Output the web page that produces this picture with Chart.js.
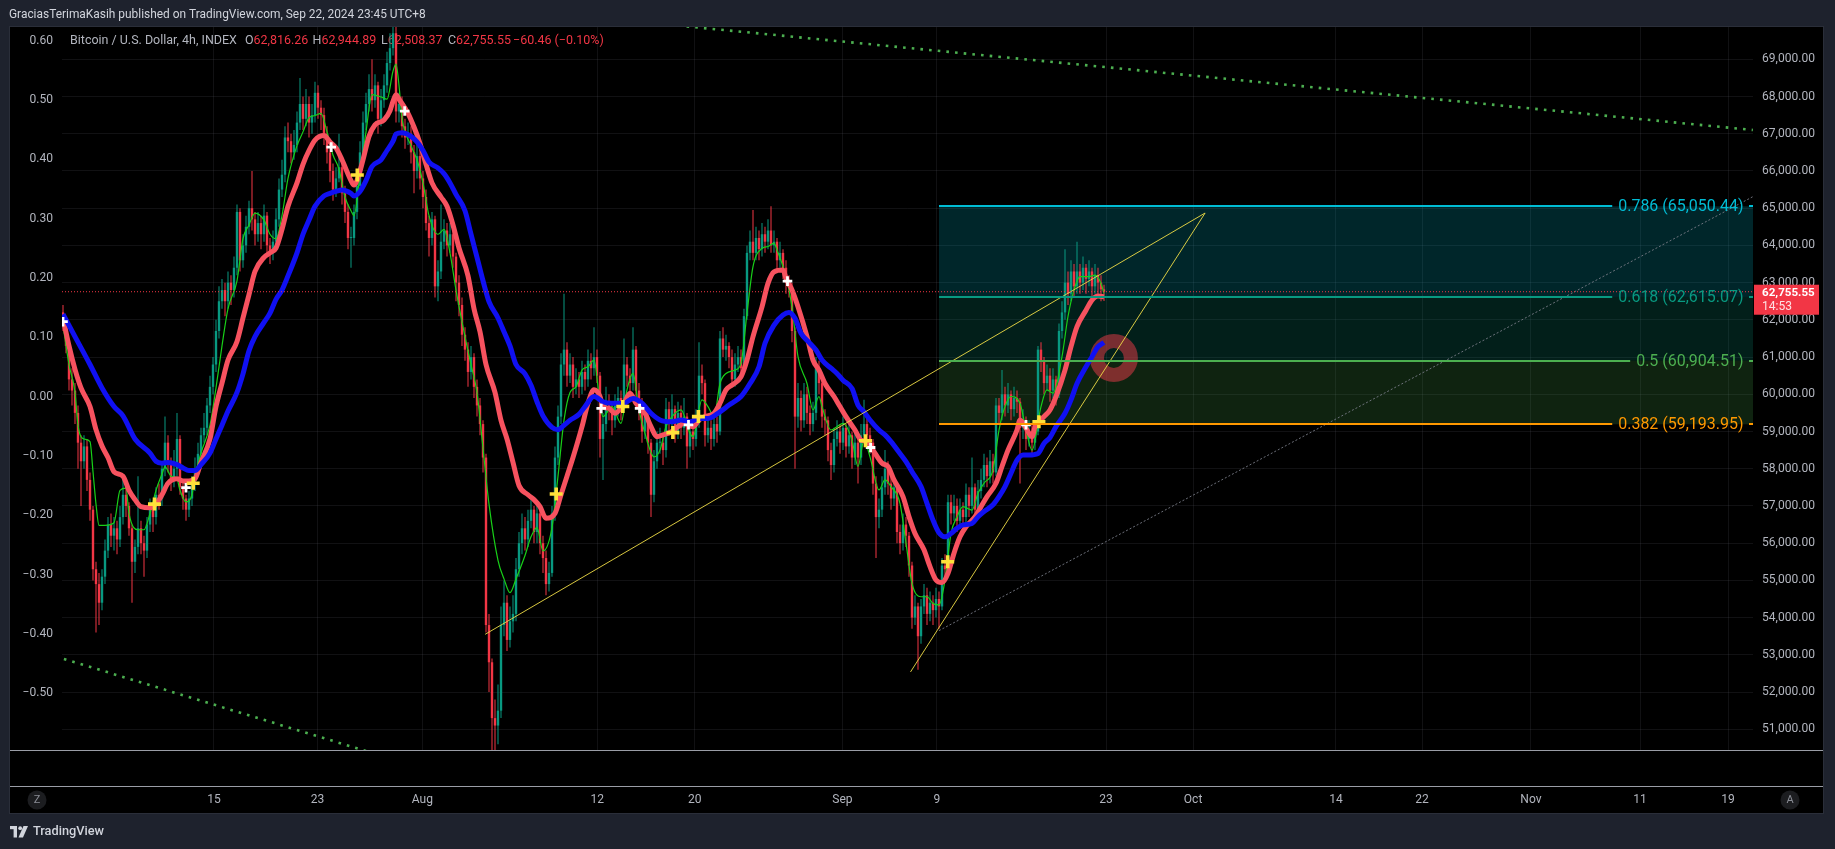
<!DOCTYPE html>
<html lang="en">
<head>
<meta charset="utf-8" />
<title>BTCUSD 4h</title>
<script src="https://cdn.jsdelivr.net/npm/chart.js@4.4.1/dist/chart.umd.min.js"></script>
<style>
  html, body { margin: 0; padding: 0; background: #1e222d; overflow: hidden; }
  canvas { display: block; }
</style>
</head>
<body>
<canvas id="btc" width="1835" height="849"></canvas>
<script>
// ---- data (4h candles, bar index 0 = first visible bar) ----
const firstOpen = 62200;
const closes = [
  61900,61300,60400,60100,59500,58700,58200,58600,57700,56900,
  55300,54900,54400,55100,55800,56500,56200,56400,56100,56700,
  57300,57000,56400,55500,55900,56400,56000,55800,56500,56900,
  56700,57300,57200,58000,58700,58100,57700,58000,58800,57500,
  57200,56900,57200,57600,58000,58400,58900,59100,59700,60200,
  60800,61700,62500,62800,62500,63000,62800,63400,64900,63600,
  64000,64500,65000,64700,64300,64600,64300,64800,64000,63800,
  64100,64700,65500,65900,66900,66800,66500,66700,67300,67800,
  67400,67800,67300,67500,68100,67700,67500,67000,66500,66000,
  65500,65800,66100,65400,64900,64200,64200,64900,65600,66500,
  67300,67800,68200,67900,68300,67400,67900,68300,68900,69300,
  69700,67600,67800,67200,66900,67000,66500,66000,66400,65800,
  65300,64600,64200,64700,62900,63300,64100,64400,64000,64300,
  63700,63000,62400,61600,61200,60600,61000,60200,59700,59200,
  58300,53800,52800,51300,51100,51500,53800,54400,53400,53900,
  54100,55300,56000,56400,56100,56600,56900,56300,56800,56000,
  55600,54900,55200,56800,58300,59400,60800,61200,60500,60800,
  60200,60400,60200,60600,60400,60900,60700,61000,60500,58800,
  59200,59800,59600,59300,59700,59900,59600,60800,60500,60300,
  61200,60100,59700,59000,59400,58700,57300,58200,58700,58700,
  58500,59600,59200,59600,59000,59500,59100,59400,58600,59000,
  58800,59300,60500,60300,58900,59100,58800,59200,59000,61500,
  61200,61300,61000,60400,60800,61000,60700,62100,63800,64100,
  63800,64200,63900,64300,64100,64400,64000,64100,63600,63800,
  63400,63000,62900,61700,59400,59900,59300,60000,59500,59200,
  59500,60700,60300,59400,59300,58500,58100,58800,59000,58700,
  59100,58600,58900,58300,58700,58300,58900,59200,58900,58700,
  57600,56700,56900,57500,58000,57600,57200,57500,56300,56000,
  56500,56200,55400,54000,54300,53500,54300,54600,54100,54400,
  54200,54500,54300,55400,55300,57100,56800,57000,56600,56900,
  56700,57300,57000,57500,56900,57400,57700,58100,57800,58200,
  57900,59700,59500,60000,59700,60000,59600,59900,59800,59100,
  59300,58800,59000,58700,59000,61200,60900,60300,60500,60100,
  60400,60000,61700,62200,63000,62700,63300,62900,63300,63000,
  63400,63100,63300,62900,63200,63000,62820,62756
];
const highs = [
  62400,62000,61400,60700,60300,59700,58900,58900,58800,57900,
  57000,55500,55200,55300,56100,56700,56800,56700,56600,57000,
  57700,57500,57100,56500,56100,57800,56600,56200,56700,57200,
  57100,57500,57600,58200,59400,58900,58300,58500,59500,58900,
  57700,57300,57400,57800,58300,58700,59100,59500,59900,60500,
  61000,62000,62900,63100,63000,63300,63200,63700,65100,65000,
  64300,64800,65200,66000,64900,64900,64800,65100,64900,64200,
  64400,65000,65800,66300,67200,67300,67000,67100,67600,68500,
  68000,68200,68000,67800,68400,68300,67900,67700,67200,66800,
  66200,66100,67000,66300,65600,65100,64500,65100,65900,66800,
  67600,68100,68600,69000,68600,68400,68200,68600,69200,69700,
  70100,69900,68100,68000,67400,67300,67200,66700,66700,66600,
  66000,65500,64800,64900,64800,63600,65100,64700,64600,64600,
  64400,63800,63200,62600,61800,61400,61300,61100,60400,59900,
  59300,58400,54100,52900,51800,52200,54300,55000,54600,54300,
  54600,55600,56300,56800,56700,56900,57200,57000,57000,56900,
  56200,55800,55500,57000,58600,59700,61100,62700,61400,61100,
  61000,60700,60600,60900,60800,61200,61100,61800,61200,60600,
  59500,60200,60000,59800,60000,60200,60100,61500,61000,60700,
  61800,61300,60300,59900,59700,59500,58800,58500,59000,59100,
  58900,59900,59800,60000,59700,59800,59700,59900,59500,59300,
  59200,59600,61400,60800,60400,59400,59300,59500,59400,61700,
  61800,61600,61400,61200,61100,61300,61200,62300,64000,64400,
  64950,64500,64400,64600,64500,64700,65050,64400,64200,64100,
  63900,63600,63200,63000,61800,60300,60100,60300,60200,59700,
  59800,61000,60900,60400,59600,59400,58700,59100,59300,59200,
  59400,59200,59200,59000,59000,58800,59200,59850,59400,59100,
  58800,57800,57200,57800,58500,58200,57800,57800,57600,56500,
  56800,56700,56300,55500,54600,54400,54500,54900,54800,54700,
  54600,54800,54700,55600,55700,57300,57300,57300,57200,57200,
  57100,57600,57500,58300,57600,57700,58000,58400,58300,58500,
  58400,59900,59900,60650,60200,60300,60100,60200,60100,59900,
  59600,59400,59300,59200,59300,61300,61400,61000,60800,60700,
  60700,60500,61900,62500,63900,63300,63600,63500,64100,63500,
  63700,63500,63600,63400,63500,63400,63200,62945
];
const lows = [
  61700,61100,60100,59700,59200,58000,57000,58000,57400,56600,
  55000,53600,53800,54200,54900,55600,55900,55800,55700,55900,
  56500,56700,56200,54400,55200,55700,55700,55100,55600,56300,
  56300,56500,56900,57000,57800,57900,57400,57500,57800,57300,
  56900,56600,56700,57000,57400,57800,58200,58700,58900,59500,
  60000,60600,61500,62300,62100,62300,62400,62600,63200,63300,
  63400,63800,64300,64400,64000,64100,63900,64100,63700,63500,
  63600,63900,64500,65300,65700,66500,66200,66300,66500,67100,
  67100,67200,66900,67000,67300,67400,67100,66700,66200,65700,
  65200,65300,65700,65100,64600,63900,63400,64000,64700,65400,
  66300,67100,67600,67600,67700,67000,67200,67700,68100,68700,
  69100,67300,67300,66900,66600,66700,66200,65400,65800,65500,
  65000,64400,63700,64000,62600,62500,63100,63900,63700,63800,
  63400,62500,62100,61300,60900,60200,60400,59900,59400,58900,
  57900,53600,52000,49100,49800,50600,51300,53500,53100,53200,
  53600,53900,55100,55700,55800,55900,56400,56000,56000,55700,
  55200,54600,54700,55100,56600,58100,59200,60500,60200,60300,
  59900,60000,59900,60000,60100,60200,60400,60500,60300,58300,
  57700,59000,59300,58900,59100,59400,59300,59500,60200,60000,
  60100,59900,59300,58700,58800,58400,56700,57100,58000,58400,
  58100,58300,58900,59000,58700,58800,58800,58900,58000,58300,
  58500,58600,59100,60000,58600,58700,58500,58600,58700,58900,
  61000,60900,60700,60200,60200,60600,60500,60600,62000,63600,
  63600,63600,63600,63700,63800,63900,63800,63800,63300,63400,
  63100,62700,62600,61400,58000,59100,59000,59100,59200,58900,
  59000,59300,60000,59100,58900,58200,57700,57900,58600,58400,
  58500,58300,58400,58000,58100,57600,58100,58700,58600,58400,
  57300,55600,56400,56700,57300,57300,56900,57000,56000,55700,
  55800,55900,55100,53700,53800,52600,53300,54100,53800,53900,
  53800,54000,53700,54200,55000,55200,56500,56600,56300,56400,
  56400,56500,56700,56800,56600,56700,57200,57500,57500,57600,
  57600,57800,59200,59300,59400,59500,59300,59400,59500,57600,
  58800,58500,58600,58400,58500,58900,60600,60000,60100,59800,
  59900,59700,59900,61500,62000,62400,62500,62600,62700,62700,
  62800,62700,62900,62500,62700,62600,62500,62508
];

// moving averages as [bar index, price]
const fastLine = [[0,61860],[2,60800],[4,60050],[5,59170],[7,58800],[9,58730],[10,57920],[11,57050],[12,56480],[14,56480],[17,56550],[19,57420],[21,57480],[22,56800],[25,56360],[27,56360],[29,56800],[31,57420],[33,57860],[34,58050],[36,57800],[38,57730],[39,57420],[41,57110],[43,57300],[44,57800],[46,58420],[49,59170],[51,60170],[53,61300],[55,62300],[58,63050],[60,64180],[62,64550],[64,64870],[67,64680],[69,64300],[71,64180],[73,64800],[75,65800],[78,66680],[80,67050],[82,67430],[84,67490],[86,67550],[88,67050],[90,66430],[92,66050],[94,65300],[96,64930],[97,64800],[99,65930],[101,67050],[103,68050],[106,67990],[108,67930],[110,68680],[111,68870],[112,68300],[113,67430],[116,66680],[118,66300],[120,65680],[122,64800],[125,64300],[127,64430],[129,63800],[131,62800],[134,61550],[136,60800],[138,60050],[140,58550],[142,57050],[145,55540],[147,55040],[149,54670],[151,55040],[154,55670],[156,56170],[158,56420],[160,55790],[163,56420],[165,57800],[167,59300],[169,60050],[171,60200],[173,60650],[175,60740],[177,60920],[179,59760],[180,59400],[183,59670],[186,59220],[188,60120],[190,60560],[192,59580],[194,58950],[197,58320],[199,58500],[201,59130],[203,59400],[206,59580],[209,58950],[210,58860],[213,59850],[215,59670],[217,59400],[219,60290],[221,60560],[224,60650],[226,60830],[228,62180],[230,63430],[233,63920],[235,63970],[237,64060],[238,63880],[241,63160],[243,62350],[245,61010],[248,60290],[250,59580],[252,59940],[253,59670],[256,59040],[258,59130],[260,59220],[263,58770],[265,58060],[267,58770],[269,58320],[272,57430],[274,57700],[276,57520],[279,57070],[281,56000],[283,54920],[286,54560],[288,54560],[290,54380],[292,54340],[294,55010],[296,56260],[298,56710],[300,56980],[303,56890],[305,57340],[307,57610],[310,57970],[312,59040],[314,59670],[316,59940],[319,59760],[321,59040],[323,58500],[326,59670],[328,60120],[330,60030],[333,61010],[335,62090],[337,62800],[339,63160],[342,63160],[344,63200],[346,62980],[347,62710]];
const midLine = [[0,62050],[2,61300],[4,60670],[6,60170],[9,59670],[11,59050],[13,58610],[15,58300],[17,57920],[20,57800],[22,57420],[24,57170],[26,56980],[29,56950],[31,57050],[33,57300],[35,57610],[38,57730],[40,57670],[42,57670],[44,57730],[46,58170],[49,58800],[51,59670],[53,60300],[55,60920],[58,61420],[60,62050],[62,62680],[64,63300],[67,63680],[69,63800],[71,63930],[73,64430],[75,65050],[78,65680],[80,66180],[82,66550],[84,66830],[87,66950],[89,66780],[91,66620],[93,66300],[96,65740],[97,65620],[98,65740],[100,66300],[102,66930],[104,67240],[107,67370],[109,67620],[110,67870],[111,68050],[112,67930],[115,67550],[117,67180],[119,66740],[121,66180],[123,65680],[126,65300],[128,65050],[130,64550],[132,63930],[135,63180],[137,62300],[139,61680],[141,60800],[144,60050],[146,59300],[148,58800],[150,58170],[152,57550],[155,57300],[157,57170],[159,56980],[161,56670],[164,56800],[166,57300],[168,57800],[170,58300],[173,59130],[175,59760],[177,60120],[179,59940],[180,59670],[182,59620],[184,59490],[187,59760],[189,60030],[191,59760],[194,59490],[196,59130],[198,58860],[200,58910],[203,59000],[205,59130],[207,59220],[210,59130],[212,59310],[214,59400],[217,59490],[219,59760],[221,60120],[223,60250],[226,60470],[228,60920],[230,61550],[233,62350],[235,62980],[237,63290],[240,63340],[241,63120],[243,62800],[245,62350],[248,61550],[250,60920],[252,60650],[254,60290],[257,59940],[259,59670],[261,59400],[264,59040],[266,58770],[268,58730],[270,58500],[273,58150],[275,58060],[277,57700],[280,57250],[282,56710],[284,56260],[287,55820],[289,55370],[291,55010],[293,54940],[295,55190],[297,55730],[299,56170],[301,56440],[304,56710],[306,56980],[308,57250],[311,57610],[313,58060],[315,58500],[318,59040],[319,59310],[321,59090],[323,58860],[324,59130],[327,59400],[329,59580],[331,59940],[334,60650],[336,61280],[338,61820],[341,62260],[343,62530],[345,62640],[347,62620]];
const slowLine = [[0,62150],[4,61550],[9,60800],[13,60170],[17,59670],[20,59420],[24,58800],[29,58420],[31,58200],[33,58150],[35,58170],[38,58110],[40,58020],[42,57950],[44,57950],[46,58110],[49,58420],[51,58800],[53,59170],[55,59550],[58,60050],[60,60550],[62,61170],[64,61550],[67,61930],[69,62180],[71,62550],[73,62800],[75,63180],[78,63800],[80,64300],[82,64680],[84,65050],[87,65330],[89,65400],[91,65450],[93,65490],[96,65400],[97,65330],[99,65450],[101,65740],[103,66120],[106,66300],[108,66550],[110,66800],[111,66990],[113,67030],[116,66930],[118,66780],[120,66550],[122,66240],[125,66080],[127,65930],[129,65680],[131,65370],[134,64930],[136,64300],[138,63680],[140,63050],[142,62490],[145,62050],[147,61680],[149,61300],[151,60800],[154,60550],[156,60240],[158,59800],[160,59420],[163,59110],[165,59050],[167,59170],[169,59300],[172,59460],[174,59670],[177,59940],[180,59800],[183,59760],[187,59760],[190,59890],[193,59760],[196,59490],[199,59310],[203,59260],[206,59310],[209,59260],[212,59350],[215,59350],[219,59530],[222,59710],[226,59940],[229,60290],[232,60740],[234,61370],[237,61860],[240,62130],[242,62200],[244,62040],[246,61640],[249,61370],[251,61190],[253,60920],[256,60700],[258,60560],[260,60380],[263,60160],[265,59710],[267,59530],[269,59310],[272,59040],[274,58910],[276,58730],[279,58410],[281,58190],[283,57920],[286,57520],[288,57070],[290,56620],[292,56280],[294,56170],[296,56260],[298,56400],[300,56490],[303,56530],[305,56710],[307,56850],[310,57030],[312,57250],[314,57520],[316,57880],[318,58230],[320,58370],[322,58370],[325,58410],[327,58680],[329,58840],[331,59130],[334,59490],[336,59850],[338,60290],[341,60740],[343,61010],[345,61280],[347,61390]];

// signal crosses
const whiteMarks = [[0,61950],[41,57490],[89.4,66640],[113.9,67610],[179.4,59620],[192.2,59620],[208.5,59180],[241.5,63040],[269.2,58570],[321,59180]];
const yellowMarks = [[30.5,57050],[43.4,57610],[98.1,65890],[164.4,57320],[186.6,59670],[203.3,58970],[211.8,59400],[267.5,58750],[294.9,55500],[325.3,59260]];

// axes
const timeTickIdx = [50.3, 84.8, 119.8, 178.1, 210.6, 259.8, 291.3, 347.7, 376.7, 424.3, 453, 489.3, 525.7, 555];
const timeTickText = ['15', '23', 'Aug', '12', '20', 'Sep', '9', '23', 'Oct', '14', '22', 'Nov', '11', '19'];
const priceTicks = [51000,52000,53000,54000,55000,56000,57000,58000,59000,60000,61000,62000,63000,64000,65000,66000,67000,68000,69000];
const oscTicks = [-0.5,-0.4,-0.3,-0.2,-0.1,0,0.1,0.2,0.3,0.4,0.5,0.6];

// drawings
const fibRatios = ['0.786', '0.618', '0.5', '0.382'];
const fibPrices = [65050.44, 62615.07, 60904.51, 59193.95];
const fibStartIdx = 292;
const trendA = [[140.7, 53550], [380.7, 64870]];
const trendB = [[282.5, 52540], [380.7, 64870]];
const grayRay = [[292, 53650], [563.3, 65310]];
const greenDotsUpper = [[179, 70110], [563.3, 67100]];
const greenDotsLower = [[0.3, 52890], [105.7, 50300]];
const ringAt = [350.3, 60975];

const ohlcLast = [62816.26, 62944.89, 62508.37, 62755.55];
const lastChange = -60.46, lastChangePct = -0.10;
const countdown = '14:53';

// ---- styling ----
const UP = '#089981', DOWN = '#f23645';
const AXIS_TXT = '#b2b5be';
const GRID = 'rgba(120,123,134,0.14)';
const FONT = 'Roboto';
const fibColors = ['#00bcd4', '#089981', '#4caf50', '#ff9800'];
const fibFills = ['rgba(0,188,212,0.2)', 'rgba(8,153,129,0.2)', 'rgba(76,175,80,0.2)'];

const meas = document.createElement('canvas').getContext('2d');
function fitSize(text, width, weight) {
  meas.font = weight + ' 20px ' + FONT;
  return 20 * width / meas.measureText(text).width;
}
const axisSize = fitSize('69,000.00', 53, 400);
const fmtPrice = v => v.toLocaleString('en-US', { minimumFractionDigits: 2, maximumFractionDigits: 2 });
const minus = s => s.replace('-', '\u2212');

const opens = closes.map((c, i) => (i === 0 ? firstOpen : closes[i - 1]));
const candleColors = closes.map((c, i) => (c >= opens[i] ? UP : DOWN));

function strokePath(c, pts, color, width, dash) {
  c.beginPath();
  c.strokeStyle = color;
  c.lineWidth = width;
  c.setLineDash(dash || []);
  c.moveTo(pts[0][0], pts[0][1]);
  for (let i = 1; i < pts.length; i++) c.lineTo(pts[i][0], pts[i][1]);
  c.stroke();
  c.setLineDash([]);
}

const decor = {
  id: 'decor',
  beforeDraw(chart) {
    const c = chart.ctx;
    c.save();
    c.fillStyle = '#1e222d';
    c.fillRect(0, 0, chart.width, chart.height);
    c.fillStyle = '#000';
    c.fillRect(10, 27, 1813, 786);
    c.strokeStyle = '#2a2e39';
    c.lineWidth = 1;
    c.strokeRect(9.5, 26.5, 1814, 787);

    const header = 'GraciasTerimaKasih published on TradingView.com, Sep 22, 2024 23:45 UTC+8';
    c.fillStyle = '#d1d4dc';
    c.textBaseline = 'middle';
    c.font = '400 ' + fitSize(header, 417, 400).toFixed(2) + 'px ' + FONT;
    c.fillText(header, 9, 15);

    // TradingView logo
    c.fillStyle = '#d1d4dc';
    c.fillRect(10, 826, 7, 3.2);
    c.fillRect(13.6, 826, 3.4, 11.5);
    c.beginPath(); c.arc(20.2, 828.2, 1.9, 0, Math.PI * 2); c.fill();
    c.beginPath();
    c.moveTo(23.5, 826); c.lineTo(28, 826); c.lineTo(23, 837.5); c.lineTo(18.5, 837.5);
    c.closePath(); c.fill();
    c.font = '500 ' + fitSize('TradingView', 71, 500).toFixed(2) + 'px ' + FONT;
    c.fillText('TradingView', 33, 832);
    c.restore();
  },
  beforeDatasetsDraw(chart) {
    const { ctx: c, chartArea: a, scales: { x, y } } = chart;
    c.save();
    c.beginPath(); c.rect(a.left, a.top, a.right - a.left, a.bottom - a.top); c.clip();
    const fx = x.getPixelForValue(fibStartIdx);
    for (let k = 0; k < 3; k++) {
      const y0 = y.getPixelForValue(fibPrices[k]);
      const y1 = y.getPixelForValue(fibPrices[k + 1]);
      c.fillStyle = fibFills[k];
      c.fillRect(fx, y0, a.right - fx, y1 - y0);
    }
    // ring marker
    c.beginPath();
    c.arc(x.getPixelForValue(ringAt[0]), y.getPixelForValue(ringAt[1]), 17, 0, Math.PI * 2);
    c.strokeStyle = 'rgba(200,55,65,0.6)';
    c.lineWidth = 14;
    c.stroke();

    // legend (candles are drawn over it)
    c.textBaseline = 'middle';
    const title = 'Bitcoin / U.S. Dollar, 4h, INDEX';
    const fs = fitSize(title, 167, 400);
    c.font = '400 ' + fs.toFixed(2) + 'px ' + FONT;
    c.fillStyle = AXIS_TXT;
    c.fillText(title, 70, 41);
    const letters = ['O', 'H', 'L', 'C'];
    const lx = [245, 312.5, 381, 448];
    letters.forEach((L, i) => {
      c.fillStyle = AXIS_TXT;
      c.fillText(L, lx[i], 41);
      c.fillStyle = DOWN;
      c.fillText(fmtPrice(ohlcLast[i]), lx[i] + c.measureText(L).width, 41);
    });
    c.fillStyle = DOWN;
    c.fillText(minus(lastChange.toFixed(2)) + ' (' + minus(lastChangePct.toFixed(2)) + '%)', 513, 41);
    c.restore();
  },
  afterDatasetsDraw(chart) {
    const { ctx: c, chartArea: a, scales: { x, y } } = chart;
    const P = pts => pts.map(p => [x.getPixelForValue(p[0]), y.getPixelForValue(p[1])]);
    c.save();
    c.beginPath(); c.rect(a.left, a.top, a.right - a.left, a.bottom - a.top); c.clip();

    strokePath(c, P(greenDotsUpper), '#4caf50', 2.6, [2.6, 6.1]);
    strokePath(c, P(greenDotsLower), '#4caf50', 2.6, [2.6, 6.1]);
    strokePath(c, P(grayRay), 'rgba(120,123,134,0.9)', 1, [2, 2]);
    strokePath(c, P(trendA), 'rgba(238,220,70,0.9)', 1);
    strokePath(c, P(trendB), 'rgba(238,220,70,0.9)', 1);

    // current price line
    const lp = y.getPixelForValue(ohlcLast[3]);
    strokePath(c, [[a.left, lp], [a.right, lp]], DOWN, 1, [1, 2]);

    // fib levels
    const fx = x.getPixelForValue(fibStartIdx);
    const labelRight = 1743.5;
    const fs = fitSize('0.786 (65,050.44)', 125.3, 400);
    c.font = '400 ' + fs.toFixed(2) + 'px ' + FONT;
    c.textBaseline = 'middle';
    c.textAlign = 'right';
    fibPrices.forEach((p, k) => {
      const py = Math.round(y.getPixelForValue(p));
      const label = fibRatios[k] + ' (' + fmtPrice(p) + ')';
      const w = c.measureText(label).width;
      strokePath(c, [[fx, py], [labelRight - w - 6, py]], fibColors[k], 2);
      strokePath(c, [[labelRight + 5.5, py], [a.right, py]], fibColors[k], 2);
      c.fillStyle = fibColors[k];
      c.fillText(label, labelRight, py + 0.5);
    });
    c.restore();
  },
  afterDraw(chart) {
    const { ctx: c, scales: { y } } = chart;
    c.save();
    // pane separators
    c.fillStyle = '#9a9da6';
    c.fillRect(10, 750, 1813, 1);
    c.fillRect(10, 786, 1813, 1);

    // last price tag
    const lp = y.getPixelForValue(ohlcLast[3]);
    c.fillStyle = DOWN;
    c.fillRect(1754, lp - 7, 65, 30);
    c.fillStyle = '#ffffff';
    c.textBaseline = 'middle';
    c.font = '700 ' + fitSize('62,755.55', 52.7, 700).toFixed(2) + 'px ' + FONT;
    c.fillText(fmtPrice(ohlcLast[3]), 1762, lp + 1.5);
    c.font = '400 ' + axisSize.toFixed(2) + 'px ' + FONT;
    c.fillStyle = 'rgba(255,255,255,0.85)';
    c.fillText(countdown, 1762, lp + 15.5);

    // scale buttons
    [[37, 'Z'], [1790, 'A']].forEach(([bx, t]) => {
      c.beginPath(); c.arc(bx, 800, 9.5, 0, Math.PI * 2);
      c.fillStyle = '#1c1d20'; c.fill();
      c.fillStyle = '#8b8e96';
      c.textAlign = 'center';
      c.font = '400 11px ' + FONT;
      c.fillText(t, bx, 800.5);
    });
    c.restore();
  }
};

const xy = arr => arr.map(([px, py]) => ({ x: px, y: py }));

new Chart(document.getElementById('btc'), {
  type: 'bar',
  data: {
    datasets: [
      { type: 'line', data: xy(yellowMarks), showLine: false, pointStyle: 'cross', pointRadius: 6.5,
        pointBorderWidth: 3.6, pointBorderColor: '#ffe03a', pointBackgroundColor: '#ffe03a', order: 0, clip: 0 },
      { type: 'line', data: xy(whiteMarks), showLine: false, pointStyle: 'cross', pointRadius: 4.8,
        pointBorderWidth: 2.8, pointBorderColor: '#ffffff', pointBackgroundColor: '#ffffff', order: 1, clip: 0 },
      { type: 'line', data: xy(slowLine), borderColor: '#1010f2', borderWidth: 5, pointRadius: 0,
        cubicInterpolationMode: 'monotone', order: 2, clip: 0 },
      { type: 'line', data: xy(midLine), borderColor: '#f7525f', borderWidth: 5, pointRadius: 0,
        cubicInterpolationMode: 'monotone', order: 3, clip: 0 },
      { type: 'line', data: xy(fastLine), borderColor: '#18d018', borderWidth: 1.2, pointRadius: 0,
        cubicInterpolationMode: 'monotone', order: 4, clip: 0 },
      { type: 'bar', data: closes.map((cl, i) => ({ x: i, y: [opens[i], cl] })), backgroundColor: candleColors,
        grouped: false, maxBarThickness: 2.4, barPercentage: 1, minBarLength: 1, order: 5, clip: 0 },
      { type: 'bar', data: closes.map((cl, i) => ({ x: i, y: [lows[i], highs[i]] })), backgroundColor: candleColors,
        grouped: false, maxBarThickness: 1, barPercentage: 1, order: 6, clip: 0 }
    ]
  },
  options: {
    responsive: false,
    animation: false,
    devicePixelRatio: 1,
    layout: { padding: { left: 10, right: 12, top: 27, bottom: 0 } },
    plugins: { legend: { display: false }, tooltip: { enabled: false } },
    scales: {
      x: {
        type: 'linear', min: -0.333, max: 563.333, offset: false,
        afterBuildTicks: s => { s.ticks = timeTickIdx.map(v => ({ value: v })); },
        afterFit: s => { s.height = 99; },
        ticks: { autoSkip: false, maxRotation: 0, padding: 43, color: AXIS_TXT,
          font: { family: FONT, size: axisSize }, callback: (v, i) => timeTickText[i] },
        grid: { color: GRID, drawTicks: false, offset: false },
        border: { display: false }
      },
      y: {
        position: 'right', min: 50443, max: 69868,
        afterBuildTicks: s => { s.ticks = priceTicks.map(v => ({ value: v })); },
        afterFit: s => { s.width = 70; },
        ticks: { autoSkip: false, padding: 9, color: AXIS_TXT, font: { family: FONT, size: axisSize },
          callback: v => fmtPrice(v) },
        grid: { color: GRID, drawTicks: false },
        border: { display: false }
      },
      osc: {
        position: 'left', min: -0.5958, max: 0.6234,
        afterBuildTicks: s => { s.ticks = oscTicks.map(v => ({ value: v })); },
        afterFit: s => { s.width = 52; },
        ticks: { autoSkip: false, padding: 9, color: AXIS_TXT, font: { family: FONT, size: axisSize },
          callback: v => minus(v.toFixed(2)) },
        grid: { display: false, drawTicks: false },
        border: { display: false }
      }
    }
  },
  plugins: [decor]
});
</script>
</body>
</html>
